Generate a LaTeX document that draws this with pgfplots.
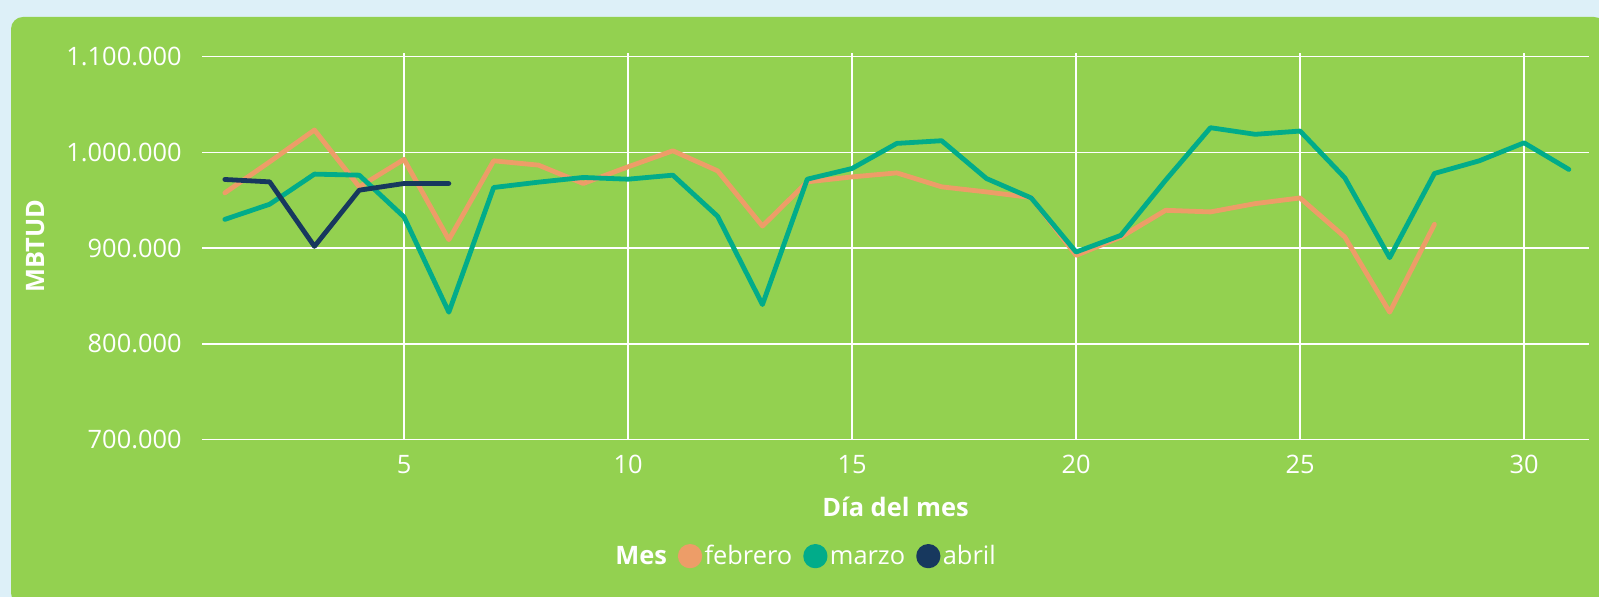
\documentclass[border=0pt]{standalone}
\usepackage{fontspec}
\setmainfont{Open Sans}
\usepackage{pgfplots}
\pgfplotsset{compat=1.18}
\definecolor{bgblue}{RGB}{221,240,248}
\definecolor{panel}{RGB}{147,209,80}
\definecolor{febcol}{RGB}{237,157,104}
\definecolor{marcol}{RGB}{1,172,138}
\definecolor{abrcol}{RGB}{23,56,94}
\newcommand{\chartfont}{\fontsize{12.7}{15}\selectfont}

\begin{document}
\begin{tikzpicture}[x=1pt,y=1pt]
\useasboundingbox (0,0) rectangle (799.5,298.5);
\fill[bgblue] (0,0) rectangle (799.5,298.5);
\fill[panel, rounded corners=6pt] (5.5,-4) rectangle (803,290);
\begin{axis}[
    at={(101pt,78.75pt)}, anchor=south west,
    scale only axis, width=693.5pt, height=193.1pt,
    xmin=0.49, xmax=31.45,
    ymin=700000, ymax=1103560,
    xtick={5,10,...,30},
    ytick={700000,800000,...,1100000},
    scaled y ticks=false,
    /pgf/number format/.cd, fixed, 1000 sep={.}, assume math mode=true, /pgfplots/.cd,
    axis line style={draw=none},
    major tick length=0pt,
    grid=major,
    grid style={white, line width=0.75pt},
    ticklabel style={text=white, font=\chartfont, inner sep=0pt},
    yticklabel shift=10pt,
    xticklabel shift=7.75pt,
    xlabel={Día del mes},
    xlabel style={at={(axis description cs:0.5,0)}, anchor=base, yshift=-38.6pt,
                  text=white, font=\chartfont\bfseries},
    ylabel={MBTUD},
    ylabel style={at={(axis description cs:-0.1132,0.5)}, anchor=base,
                  text=white, font=\chartfont\bfseries},
    legend columns=-1,
    legend style={at={(axis description cs:0.296,-0.3032)}, anchor=west,
                  draw=none, fill=none, inner sep=0pt, text=white, font=\chartfont,
                  nodes={inner sep=0pt, text height=0.75em, text depth=0.25em},
                  /tikz/every odd column/.style={column sep=1.2pt},
                  /tikz/every even column/.style={column sep=5.5pt}},
    legend image code/.code={\fill[#1] (0pt,0.15em) circle (4.85pt);},
    every axis plot/.append style={line width=2.4pt, line join=round, line cap=round},
    no markers,
]
\addlegendimage{empty legend}
\addlegendentry{\textbf{Mes}\hspace{1.7pt}}

\addplot[febcol] coordinates {
(1,957700) (2,990100) (3,1023400) (4,964000) (5,992700) (6,908800) (7,991200)
(8,986700) (9,967500) (10,984900) (11,1001700) (12,980700) (13,923000) (14,969200)
(15,974400) (16,978600) (17,964000) (18,958700) (19,952800) (20,892400) (21,911500)
(22,939500) (23,937800) (24,946500) (25,952400) (26,911500) (27,833000) (28,924800)
};
\addlegendentry{febrero}

\addplot[marcol] coordinates {
(1,930000) (2,945800) (3,977300) (4,976200) (5,932500) (6,833000) (7,963300)
(8,968900) (9,973800) (10,972000) (11,976200) (12,933200) (13,841000) (14,972000)
(15,983200) (16,1009400) (17,1012200) (18,972700) (19,952400) (20,895900) (21,913300)
(22,971000) (23,1025800) (24,1018900) (25,1022300) (26,973400) (27,890000) (28,978000)
(29,991200) (30,1010000) (31,982200)
};
\addlegendentry{marzo}

\addplot[abrcol] coordinates {
(1,971700) (2,969200) (3,901800) (4,960500) (5,967500) (6,967500)
};
\addlegendentry{abril}
\end{axis}
\end{tikzpicture}
\end{document}
